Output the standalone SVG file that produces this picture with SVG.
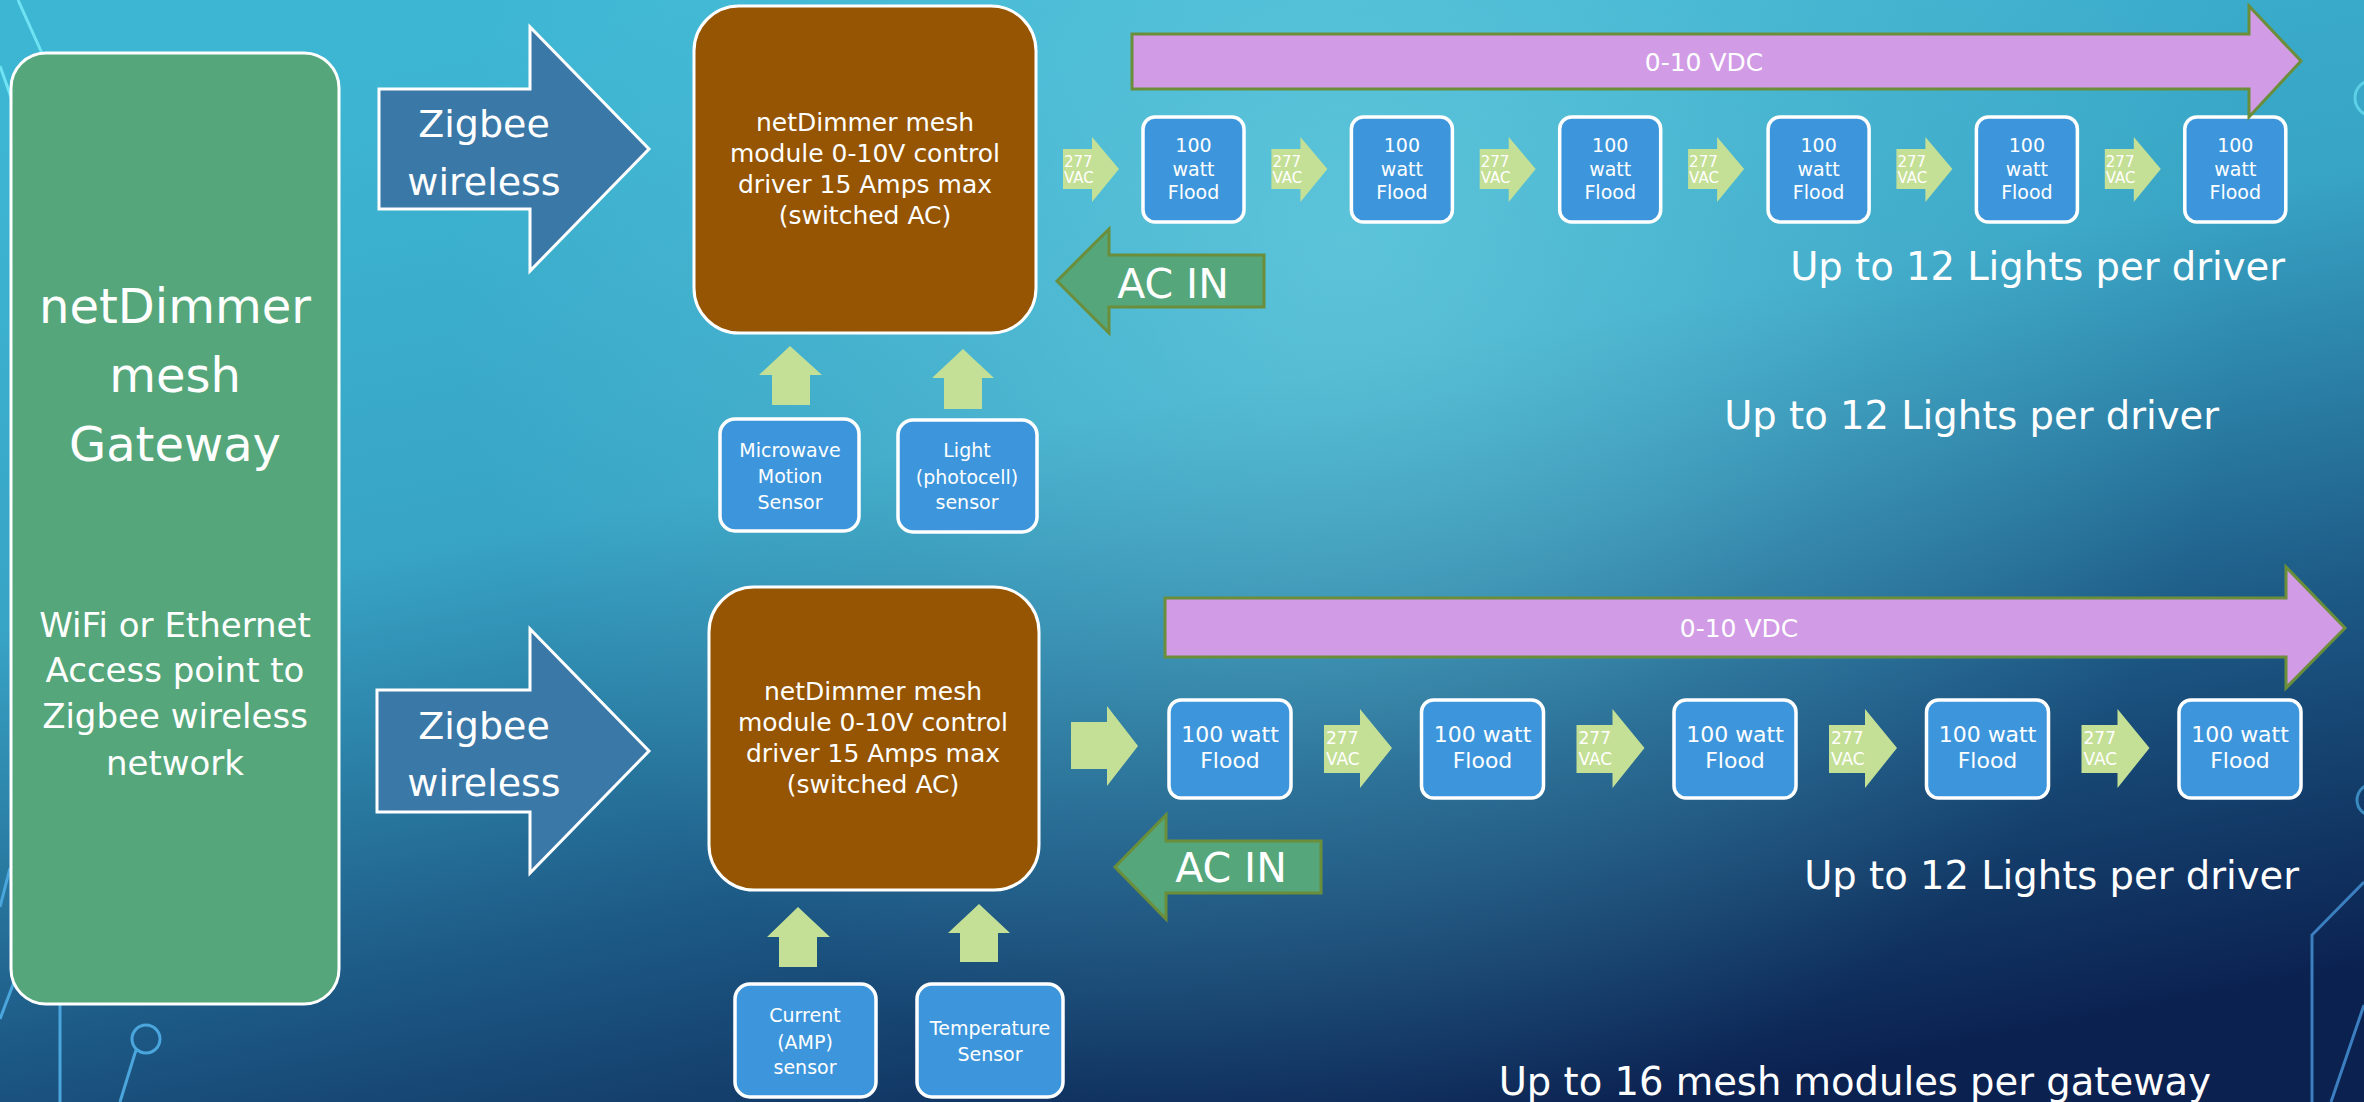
<svg xmlns="http://www.w3.org/2000/svg" width="2364" height="1102" viewBox="0 0 2364 1102">
<defs>
<linearGradient id="bg" x1="0.3" y1="0" x2="0.72" y2="1">
<stop offset="0" stop-color="#3db6d3"/>
<stop offset="0.38" stop-color="#38a4c5"/>
<stop offset="0.7" stop-color="#1d5a86"/>
<stop offset="1" stop-color="#0b2150"/>
</linearGradient>
<radialGradient id="hl" gradientUnits="userSpaceOnUse" cx="1350" cy="240" r="900">
<stop offset="0" stop-color="#6fd2e2" stop-opacity="0.65"/>
<stop offset="0.6" stop-color="#6fd2e2" stop-opacity="0.2"/>
<stop offset="1" stop-color="#6fd2e2" stop-opacity="0"/>
</radialGradient>
</defs>
<style>
text{font-family:"DejaVu Sans","Liberation Sans",sans-serif;fill:#ffffff;text-anchor:middle}
.gw{fill:#55a77b;stroke:#ffffff;stroke-width:3}
.drv{fill:#955503;stroke:#ffffff;stroke-width:3}
.blue{fill:#3d96dc;stroke:#ffffff;stroke-width:3.5}
.zig{fill:#3a78a8;stroke:#ffffff;stroke-width:3}
.vac{fill:#c4e096}
.pink{fill:#d19be5;stroke:#6b8e3a;stroke-width:3}
.acin{fill:#55a77b;stroke:#6b8e3a;stroke-width:3}
.deco{fill:none;stroke-width:3}
.t48{font-size:48px}
.t34{font-size:34px}
.t38{font-size:38px}
.t26{font-size:25px}
.t19{font-size:19px}
.t22{font-size:22px}
.t15{font-size:15px;text-anchor:start}
.t17{font-size:17px;text-anchor:start}
.t25{font-size:25px}
.t41{font-size:41px}
.up{font-size:38.5px;text-anchor:end}
</style>
<rect x="0" y="0" width="2364" height="1102" fill="url(#bg)"/>
<rect x="0" y="0" width="2364" height="1102" fill="url(#hl)"/>
<g id="decorations">
<path class="deco" stroke="#6fe3f3" d="M18 0 L45 60"/>
<path class="deco" stroke="#6fe3f3" d="M0 66 L12 100"/>
<path class="deco" stroke="#4aa6dc" d="M0 907 L10 868"/>
<path class="deco" stroke="#4aa6dc" d="M0 1019 L14 982"/>
<path class="deco" stroke="#4aa6dc" stroke-width="4" d="M60 1004 L60 1102"/>
<circle class="deco" stroke="#4aa6dc" stroke-width="4" cx="146" cy="1039" r="14"/>
<path class="deco" stroke="#4aa6dc" stroke-width="4" d="M136 1050 L120 1102"/>
<circle class="deco" stroke="#5cd0e6" cx="2373" cy="98" r="18"/>
<circle class="deco" stroke="#3a8ac0" cx="2373" cy="800" r="16"/>
<path class="deco" stroke="#3b7fc0" stroke-width="4" d="M2312 1102 L2312 935 L2364 882"/>
<path class="deco" stroke="#3b7fc0" stroke-width="4" d="M2331 1102 L2364 1005"/>
</g>
<g id="gateway">
<rect class="gw" x="11" y="53" width="328" height="951" rx="35"/>
<text class="t48" x="175" y="323">netDimmer</text>
<text class="t48" x="175" y="392">mesh</text>
<text class="t48" x="175" y="461">Gateway</text>
<text class="t34" x="175" y="637">WiFi or Ethernet</text>
<text class="t34" x="175" y="682">Access point to</text>
<text class="t34" x="175" y="728">Zigbee wireless</text>
<text class="t34" x="175" y="775">network</text>
</g>
<g id="driver1">
<rect class="drv" x="694" y="6" width="342" height="327" rx="45"/>
<text class="t26" x="865" y="131">netDimmer mesh</text>
<text class="t26" x="865" y="162">module 0-10V control</text>
<text class="t26" x="865" y="193">driver 15 Amps max</text>
<text class="t26" x="865" y="224">(switched AC)</text>
</g>
<g id="driver2">
<rect class="drv" x="709" y="587" width="330" height="303" rx="45"/>
<text class="t26" x="873" y="700">netDimmer mesh</text>
<text class="t26" x="873" y="731">module 0-10V control</text>
<text class="t26" x="873" y="762">driver 15 Amps max</text>
<text class="t26" x="873" y="793">(switched AC)</text>
</g>
<g id="sensor-microwave">
<rect class="blue" x="720" y="419" width="139" height="112" rx="15"/>
<text class="t19" x="790" y="457">Microwave</text>
<text class="t19" x="790" y="483">Motion</text>
<text class="t19" x="790" y="509">Sensor</text>
</g>
<g id="sensor-light">
<rect class="blue" x="898" y="420" width="139" height="112" rx="15"/>
<text class="t19" x="967" y="457">Light</text>
<text class="t19" x="967" y="484">(photocell)</text>
<text class="t19" x="967" y="509">sensor</text>
</g>
<g id="sensor-current">
<rect class="blue" x="735" y="984" width="141" height="113" rx="15"/>
<text class="t19" x="805" y="1022">Current</text>
<text class="t19" x="805" y="1049">(AMP)</text>
<text class="t19" x="805" y="1074">sensor</text>
</g>
<g id="sensor-temperature">
<rect class="blue" x="917" y="984" width="146" height="113" rx="15"/>
<text class="t19" x="990" y="1035">Temperature</text>
<text class="t19" x="990" y="1061">Sensor</text>
</g>
<g id="lights-row1">
<g id="light1-1"><rect class="blue" x="1143" y="117" width="101" height="105" rx="12"/><text class="t19" x="1193.5" y="152">100</text><text class="t19" x="1193.5" y="176">watt</text><text class="t19" x="1193.5" y="199">Flood</text></g>
<g id="light1-2"><rect class="blue" x="1351.4" y="117" width="101" height="105" rx="12"/><text class="t19" x="1401.9" y="152">100</text><text class="t19" x="1401.9" y="176">watt</text><text class="t19" x="1401.9" y="199">Flood</text></g>
<g id="light1-3"><rect class="blue" x="1559.7" y="117" width="101" height="105" rx="12"/><text class="t19" x="1610.2" y="152">100</text><text class="t19" x="1610.2" y="176">watt</text><text class="t19" x="1610.2" y="199">Flood</text></g>
<g id="light1-4"><rect class="blue" x="1768.1" y="117" width="101" height="105" rx="12"/><text class="t19" x="1818.6" y="152">100</text><text class="t19" x="1818.6" y="176">watt</text><text class="t19" x="1818.6" y="199">Flood</text></g>
<g id="light1-5"><rect class="blue" x="1976.4" y="117" width="101" height="105" rx="12"/><text class="t19" x="2026.9" y="152">100</text><text class="t19" x="2026.9" y="176">watt</text><text class="t19" x="2026.9" y="199">Flood</text></g>
<g id="light1-6"><rect class="blue" x="2184.8" y="117" width="101" height="105" rx="12"/><text class="t19" x="2235.3" y="152">100</text><text class="t19" x="2235.3" y="176">watt</text><text class="t19" x="2235.3" y="199">Flood</text></g>
</g>
<g id="lights-row2">
<g id="light2-1"><rect class="blue" x="1169" y="700" width="122" height="98" rx="12"/><text class="t22" x="1230" y="742">100 watt</text><text class="t22" x="1230" y="768">Flood</text></g>
<g id="light2-2"><rect class="blue" x="1421.5" y="700" width="122" height="98" rx="12"/><text class="t22" x="1482.5" y="742">100 watt</text><text class="t22" x="1482.5" y="768">Flood</text></g>
<g id="light2-3"><rect class="blue" x="1674" y="700" width="122" height="98" rx="12"/><text class="t22" x="1735" y="742">100 watt</text><text class="t22" x="1735" y="768">Flood</text></g>
<g id="light2-4"><rect class="blue" x="1926.5" y="700" width="122" height="98" rx="12"/><text class="t22" x="1987.5" y="742">100 watt</text><text class="t22" x="1987.5" y="768">Flood</text></g>
<g id="light2-5"><rect class="blue" x="2179" y="700" width="122" height="98" rx="12"/><text class="t22" x="2240" y="742">100 watt</text><text class="t22" x="2240" y="768">Flood</text></g>
</g>
<g id="connectors">
<g id="zigbee1"><polygon class="zig" points="379,89 530,89 530,27 649,149 530,271 530,209 379,209"/><text class="t38" x="484" y="137">Zigbee</text><text class="t38" x="484" y="195">wireless</text></g>
<g id="zigbee2"><polygon class="zig" points="377,690 530,690 530,629 649,751 530,873 530,812 377,812"/><text class="t38" x="484" y="739">Zigbee</text><text class="t38" x="484" y="796">wireless</text></g>
<g id="up-arrows">
<polygon class="vac" points="790,346 822,375 810,375 810,405 772,405 772,375 759,375"/>
<polygon class="vac" points="963,349 994,378 982,378 982,409 944,409 944,378 932,378"/>
<polygon class="vac" points="798,907 830,937 817,937 817,967 779,967 779,937 767,937"/>
<polygon class="vac" points="979,904 1010,933 998,933 998,962 960,962 960,933 948,933"/>
</g>
<g id="acin1"><polygon class="acin" points="1057,281 1109,229 1109,255 1264,255 1264,307 1109,307 1109,333"/><text class="t41" x="1173" y="298">AC IN</text></g>
<g id="acin2"><polygon class="acin" points="1115,867 1166,815 1166,841 1321,841 1321,893 1166,893 1166,919"/><text class="t41" x="1231" y="882">AC IN</text></g>
<g id="vdc1"><polygon class="pink" points="1132,34 2249,34 2249,6 2301,61 2249,117 2249,89 1132,89"/><text class="t25" x="1704" y="71">0-10 VDC</text></g>
<g id="vdc2"><polygon class="pink" points="1165,598 2286,598 2286,567 2345,628 2286,688 2286,657 1165,657"/><text class="t25" x="1739" y="637">0-10 VDC</text></g>
<g id="vac-row1">
<g><polygon class="vac" points="1063,149 1092,149 1092,137 1119,169 1092,202 1092,189 1063,189"/><text class="t15" x="1064" y="167">277</text><text class="t15" x="1064" y="183">VAC</text></g>
<g><polygon class="vac" points="1271.4,149 1300.4,149 1300.4,137 1327.4,169 1300.4,202 1300.4,189 1271.4,189"/><text class="t15" x="1272.4" y="167">277</text><text class="t15" x="1272.4" y="183">VAC</text></g>
<g><polygon class="vac" points="1479.7,149 1508.7,149 1508.7,137 1535.7,169 1508.7,202 1508.7,189 1479.7,189"/><text class="t15" x="1480.7" y="167">277</text><text class="t15" x="1480.7" y="183">VAC</text></g>
<g><polygon class="vac" points="1688.1,149 1717.1,149 1717.1,137 1744.1,169 1717.1,202 1717.1,189 1688.1,189"/><text class="t15" x="1689.1" y="167">277</text><text class="t15" x="1689.1" y="183">VAC</text></g>
<g><polygon class="vac" points="1896.4,149 1925.4,149 1925.4,137 1952.4,169 1925.4,202 1925.4,189 1896.4,189"/><text class="t15" x="1897.4" y="167">277</text><text class="t15" x="1897.4" y="183">VAC</text></g>
<g><polygon class="vac" points="2104.8,149 2133.8,149 2133.8,137 2160.8,169 2133.8,202 2133.8,189 2104.8,189"/><text class="t15" x="2105.8" y="167">277</text><text class="t15" x="2105.8" y="183">VAC</text></g>
</g>
<g id="vac-row2">
<polygon class="vac" points="1071,722 1107,722 1107,706 1138,746 1107,786 1107,769 1071,769"/>
<g><polygon class="vac" points="1324,725 1360,725 1360,709 1392,748 1360,788 1360,773 1324,773"/><text class="t17" x="1326" y="744">277</text><text class="t17" x="1326" y="765">VAC</text></g>
<g><polygon class="vac" points="1576.5,725 1612.5,725 1612.5,709 1644.5,748 1612.5,788 1612.5,773 1576.5,773"/><text class="t17" x="1578.5" y="744">277</text><text class="t17" x="1578.5" y="765">VAC</text></g>
<g><polygon class="vac" points="1829,725 1865,725 1865,709 1897,748 1865,788 1865,773 1829,773"/><text class="t17" x="1831" y="744">277</text><text class="t17" x="1831" y="765">VAC</text></g>
<g><polygon class="vac" points="2081.5,725 2117.5,725 2117.5,709 2149.5,748 2117.5,788 2117.5,773 2081.5,773"/><text class="t17" x="2083.5" y="744">277</text><text class="t17" x="2083.5" y="765">VAC</text></g>
</g>
</g>
<g id="notes">
<text class="up" x="2285" y="280">Up to 12 Lights per driver</text>
<text class="up" x="2219" y="429">Up to 12 Lights per driver</text>
<text class="up" x="2299" y="889">Up to 12 Lights per driver</text>
<text class="up" x="2211" y="1095">Up to 16 mesh modules per gateway</text>
</g>
</svg>
